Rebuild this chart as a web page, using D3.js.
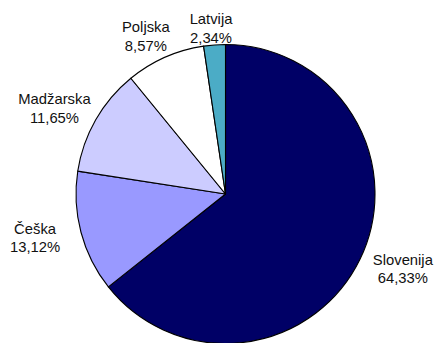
<!DOCTYPE html>
<html>
<head>
<meta charset="utf-8">
<script src="https://cdn.jsdelivr.net/npm/d3@7"></script>
<style>
  html, body { margin: 0; padding: 0; background: #fff; }
  svg { display: block; }
</style>
</head>
<body>
<svg id="chart" width="436" height="343"></svg>
<script>
// Share of each country (%)
const countries = ["Slovenija", "Češka", "Madžarska", "Poljska", "Latvija"];
const shares = [64.33, 13.12, 11.65, 8.57, 2.34];
const shareLabels = ["64,33%", "13,12%", "11,65%", "8,57%", "2,34%"];
const sliceColors = ["#000066", "#9999FF", "#CCCCFF", "#FFFFFF", "#4BACC6"];

const width = 436, height = 343;
const cx = 225.5, cy = 194, radius = 149.5;
const fontSize = 14.8, lineGap = 18.3;

const svg = d3.select("#chart");
const data = countries.map((c, i) => ({ name: c, value: shares[i], label: shareLabels[i], color: sliceColors[i] }));

const pie = d3.pie().value(d => d.value).sort(null).startAngle(0).endAngle(2 * Math.PI);
const arc = d3.arc().innerRadius(0).outerRadius(radius);
const arcs = pie(data);

const g = svg.append("g").attr("transform", `translate(${cx},${cy})`);

g.selectAll("path.slice")
  .data(arcs)
  .join("path")
  .attr("class", "slice")
  .attr("d", arc)
  .attr("fill", d => d.data.color)
  .attr("stroke", "#000")
  .attr("stroke-width", 1.1)
  .attr("stroke-linejoin", "round");

// Outside-end labels placed on an ellipse around the pie, kept inside the chart area
const labelRx = 197, labelRy = 172, labelHalfH = 15, minTop = 13.5;
arcs.forEach(d => {
  const mid = (d.startAngle + d.endAngle) / 2;
  d.lx = cx + Math.sin(mid) * labelRx;
  d.ly = cy - Math.cos(mid) * labelRy;
  if (d.ly - labelHalfH < minTop) d.ly = minTop + labelHalfH;
});

const labels = svg.selectAll("text.lbl")
  .data(arcs)
  .join("text")
  .attr("class", "lbl")
  .attr("font-family", "'Liberation Sans', Arial, sans-serif")
  .attr("font-size", fontSize)
  .attr("fill", "#111")
  .attr("text-anchor", "middle");

labels.append("tspan")
  .attr("x", d => d.lx)
  .attr("y", d => d.ly - lineGap / 2 + 4.85)
  .text(d => d.data.name);
labels.append("tspan")
  .attr("x", d => d.lx)
  .attr("y", d => d.ly + lineGap / 2 + 4.85)
  .text(d => d.data.label);
</script>
</body>
</html>
